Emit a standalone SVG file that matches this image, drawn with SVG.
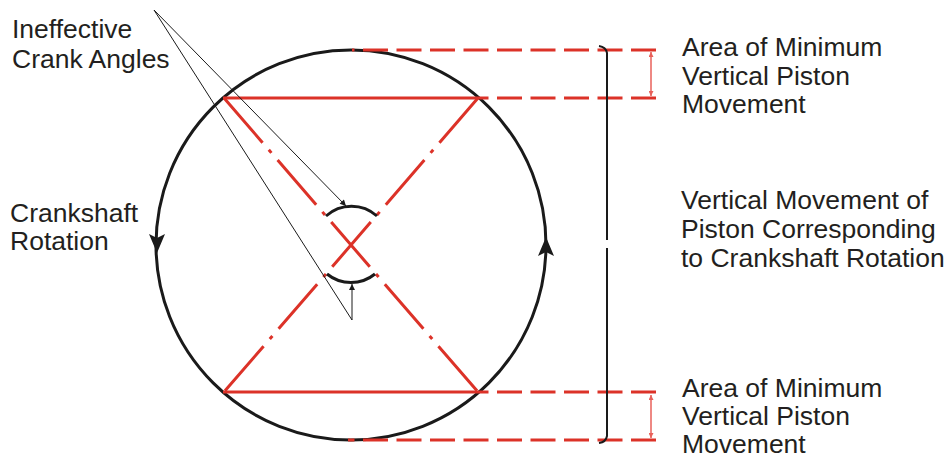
<svg xmlns="http://www.w3.org/2000/svg" width="951" height="459" viewBox="0 0 951 459">
<style>
  text { font-family: "Liberation Sans", Arial, sans-serif; font-size: 26.5px; fill: #231f20; }
  .red { stroke: #dc3228; stroke-width: 3; fill: none; }
  .dash { stroke: #dc3228; stroke-width: 3; fill: none; stroke-dasharray: 25 8.5; }
  .dd { stroke: #dc3228; stroke-width: 3; fill: none; stroke-dasharray: 59 9.5 4 9.5; }
  .blk { stroke: #1a1a1a; stroke-width: 3; fill: none; }
  .thin { stroke: #1a1a1a; stroke-width: 1; fill: none; }
  .rthin { stroke: #e8605a; stroke-width: 1.5; fill: none; }
</style>
<defs>
  <marker id="ah" viewBox="0 0 10 10" refX="10" refY="5" markerWidth="9" markerHeight="6" markerUnits="userSpaceOnUse" orient="auto">
    <path d="M0,0 L10,5 L0,10 Z" fill="#1a1a1a"/>
  </marker>
  <marker id="rah" viewBox="0 0 10 10" refX="10" refY="5" markerWidth="8" markerHeight="5" markerUnits="userSpaceOnUse" orient="auto-start-reverse">
    <path d="M0,0 L10,5 L0,10 Z" fill="#e8605a"/>
  </marker>
</defs>
<rect width="951" height="459" fill="#ffffff"/>

<g id="crank-circle">
  <circle cx="351" cy="245" r="195" class="blk"/>
  <path d="M149,234 L157,238 L165,234 L157,253 Z" fill="#1a1a1a"/>
  <path d="M538,256 L546,252 L554,256 L546,237 Z" fill="#1a1a1a"/>
</g>

<g id="crank-geometry">
  <line x1="223" y1="98" x2="479" y2="98" class="red"/>
  <line x1="223" y1="392" x2="479" y2="392" class="red"/>
  <line x1="224" y1="98" x2="478" y2="392" class="dd"/>
  <line x1="478" y1="98" x2="224" y2="392" class="dd"/>
  <path d="M326,216 A38,38 0 0 1 377,216" class="blk"/>
  <path d="M327,274 A38,38 0 0 0 375,274" class="blk"/>
</g>

<g id="connectors">
  <line x1="656" y1="50" x2="352" y2="50" class="dash"/>
  <line x1="656" y1="98" x2="479" y2="98" class="dash"/>
  <line x1="656" y1="392" x2="479" y2="392" class="dash"/>
  <line x1="656" y1="440" x2="348" y2="440" class="dash"/>
  <line x1="651" y1="52" x2="651" y2="96" class="rthin" marker-start="url(#rah)" marker-end="url(#rah)"/>
  <line x1="651" y1="395" x2="651" y2="438" class="rthin" marker-start="url(#rah)" marker-end="url(#rah)"/>
  <path d="M599,46 Q606,47 607,53 L607,240" stroke="#1a1a1a" stroke-width="2" fill="none"/>
  <path d="M607,248 L607,436 Q606,442 599,443" stroke="#1a1a1a" stroke-width="2" fill="none"/>
  <line x1="154" y1="10" x2="346" y2="206" class="thin" marker-end="url(#ah)"/>
  <polyline points="154,10 352,320 352,284" class="thin" marker-end="url(#ah)"/>
</g>

<g id="label-ineffective">
  <text x="12" y="38">Ineffective</text>
  <text x="12" y="68">Crank Angles</text>
</g>
<g id="label-rotation">
  <text x="10" y="222">Crankshaft</text>
  <text x="10" y="250">Rotation</text>
</g>
<g id="label-area-top">
  <text x="682" y="56">Area of Minimum</text>
  <text x="682" y="85">Vertical Piston</text>
  <text x="682" y="113">Movement</text>
</g>
<g id="label-vertical">
  <text x="681" y="209">Vertical Movement of</text>
  <text x="681" y="238">Piston Corresponding</text>
  <text x="681" y="267">to Crankshaft Rotation</text>
</g>
<g id="label-area-bottom">
  <text x="682" y="397">Area of Minimum</text>
  <text x="682" y="425">Vertical Piston</text>
  <text x="682" y="453">Movement</text>
</g>
</svg>
